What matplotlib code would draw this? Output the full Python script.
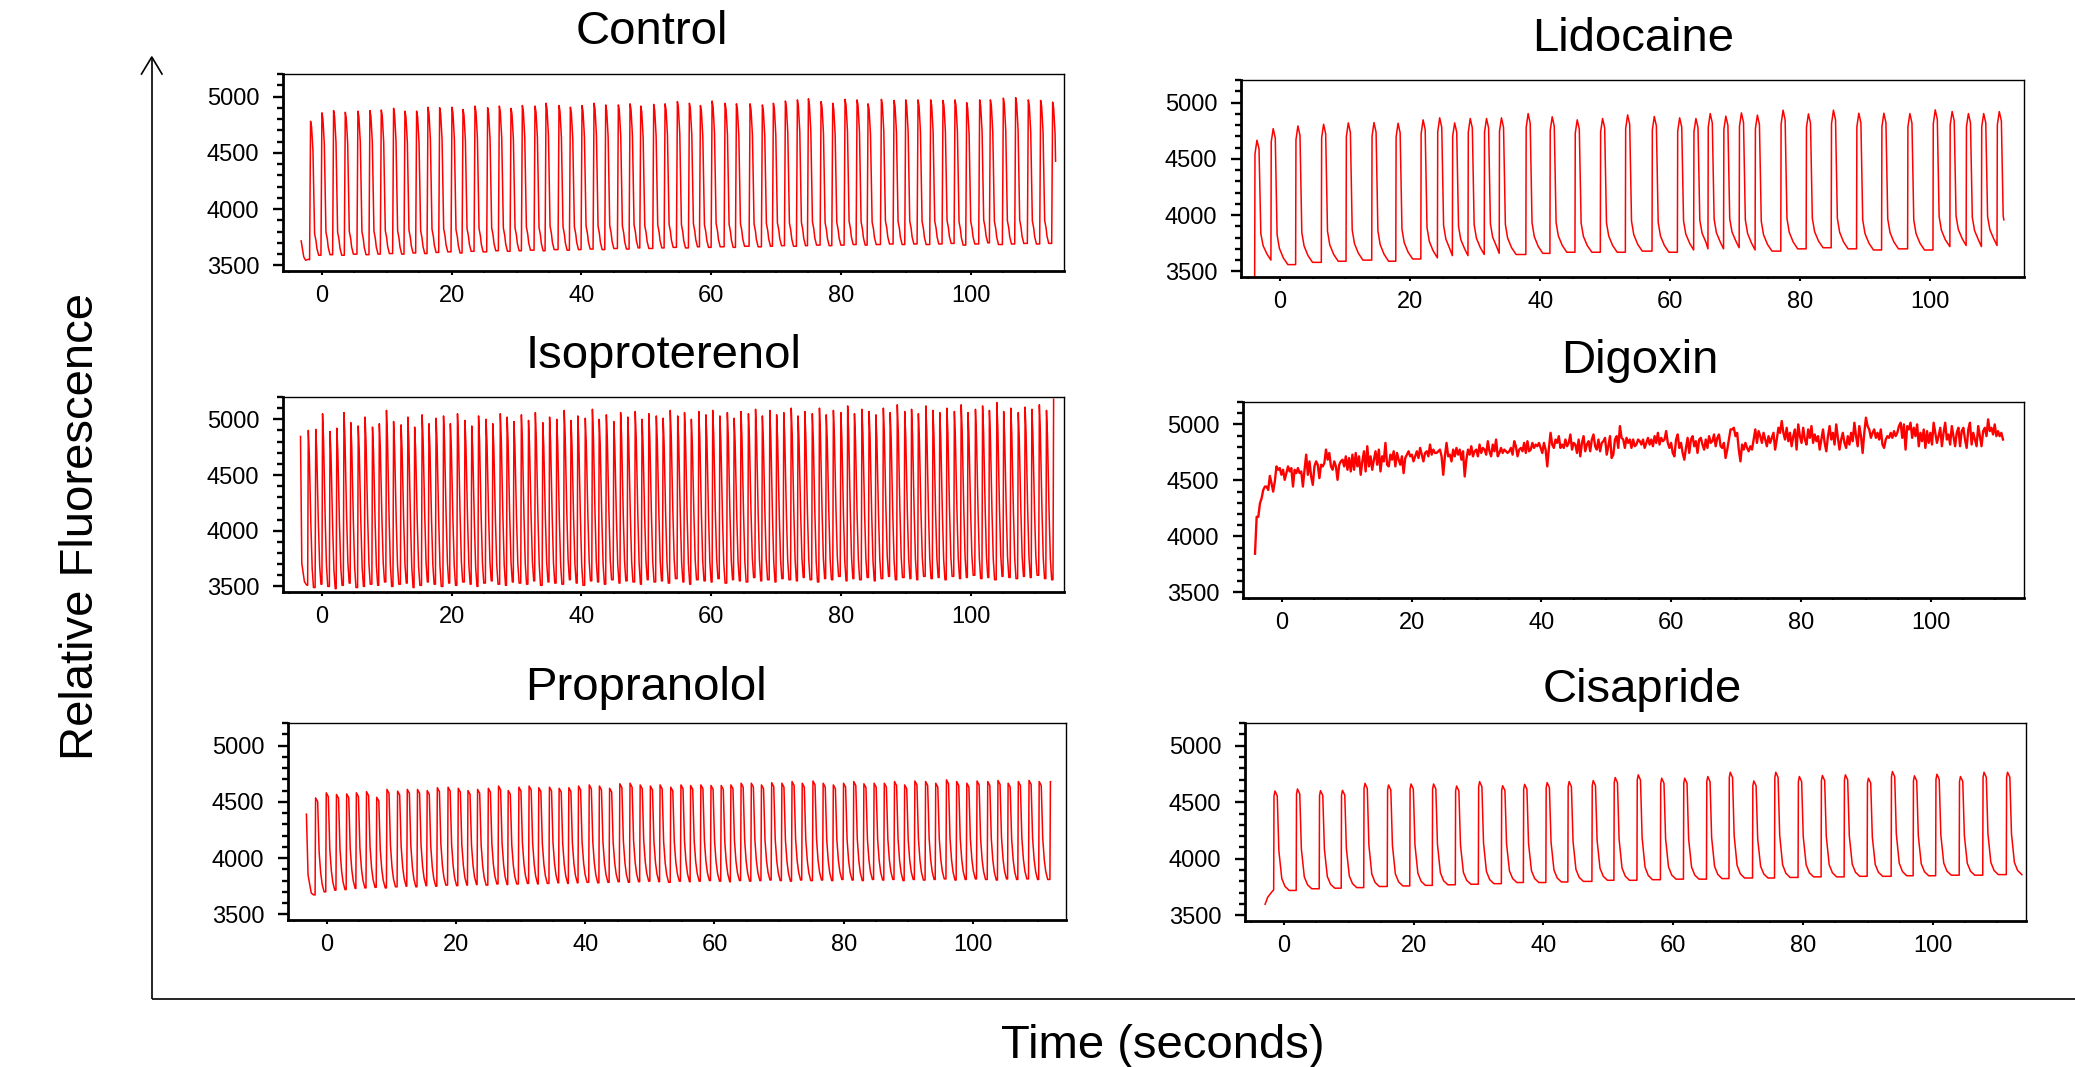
import numpy as np
import matplotlib
matplotlib.use("Agg")
import matplotlib.pyplot as plt
from matplotlib.ticker import MultipleLocator

plt.rcParams['font.family'] = ['Liberation Sans', 'DejaVu Sans']

W, H = 2075, 1067

# ---- Control: beat onsets (s), peak and trough levels ----
ctrl_onsets = [-1.9, -0.15, 1.65, 3.45, 5.4, 7.25, 9.0, 10.9, 12.65, 14.45,
               16.2, 18.0, 19.9, 21.6, 23.45, 25.4, 27.2, 29.0, 30.75, 32.7,
               34.4, 36.4, 38.15, 39.95, 41.8, 43.6, 45.55, 47.35, 49.0, 51.0,
               52.75, 54.65, 56.5, 58.2, 60.0, 62.0, 63.75, 65.85, 67.75, 69.45,
               71.3, 73.15, 74.85, 76.8, 78.6, 80.5, 82.35, 84.05, 86.1, 88.05,
               89.85, 91.75, 93.7, 95.6, 97.45, 99.25, 101.25, 102.9, 104.9, 106.8,
               108.75, 110.65, 112.5]
ctrl_peaks = [4780, 4855, 4875, 4860, 4870, 4875, 4880, 4895, 4870, 4870,
              4905, 4900, 4905, 4885, 4915, 4900, 4915, 4895, 4920, 4915,
              4940, 4920, 4905, 4920, 4940, 4925, 4925, 4935, 4915, 4930,
              4935, 4955, 4940, 4920, 4960, 4940, 4935, 4935, 4925, 4940,
              4960, 4970, 4980, 4955, 4940, 4975, 4970, 4935, 4975, 4965,
              4970, 4970, 4970, 4965, 4970, 4945, 4970, 4970, 4985, 4990,
              4970, 4965, 4950]
ctrl_troughs = [3550, 3590, 3595, 3590, 3600, 3595, 3600, 3605, 3600, 3610,
                3605, 3615, 3620, 3610, 3625, 3620, 3630, 3625, 3630, 3635,
                3630, 3640, 3635, 3640, 3645, 3640, 3650, 3645, 3655, 3650,
                3655, 3660, 3655, 3665, 3660, 3665, 3660, 3670, 3665, 3670,
                3675, 3670, 3675, 3680, 3675, 3680, 3685, 3680, 3685, 3690,
                3685, 3690, 3685, 3690, 3695, 3680, 3690, 3700, 3685, 3690,
                3695, 3690, 3695]
ctrl_pre_t = [-3.2, -2.8, -2.5, -2.1]
ctrl_pre_v = [3717, 3575, 3545, 3555]
ctrl_shape_t = [0, 0.15, 0.3, 0.52, 0.77, 0.98, 1.13, 1.4]
ctrl_shape_f = [0, 1.0, 0.96, 0.78, 0.16, 0.11, 0.05, 0]
ctrl_end = 113.1

# ---- Isoproterenol ----
iso_onsets = [-2.2, -1.05, 0.0, 1.15, 2.2, 3.3, 4.35, 5.5, 6.55, 7.7,
              8.75, 9.85, 10.95, 12.1, 13.15, 14.2, 15.35, 16.4, 17.5, 18.65,
              19.7, 20.8, 21.95, 23.0, 24.05, 25.2, 26.25, 27.4, 28.45, 29.5,
              30.65, 31.75, 32.8, 33.95, 35.0, 36.1, 37.25, 38.3, 39.35, 40.5,
              41.6, 42.65, 43.75, 44.9, 45.95, 47.05, 48.2, 49.25, 50.3, 51.45,
              52.5, 53.6, 54.75, 55.8, 56.85, 58.0, 59.1, 60.15, 61.25, 62.4,
              63.45, 64.5, 65.65, 66.75, 67.8, 68.95, 70.0, 71.1, 72.25, 73.3,
              74.35, 75.5, 76.6, 77.65, 78.75, 79.9, 80.95, 82.0, 83.15, 84.25,
              85.3, 86.45, 87.5, 88.6, 89.75, 90.8, 91.85, 93.0, 94.1, 95.15,
              96.25, 97.4, 98.45, 99.5, 100.65, 101.75, 102.8, 103.95, 105.0, 106.1,
              107.25, 108.3, 109.35, 110.5, 111.6, 112.7]
iso_peaks = [4900, 4910, 5050, 4890, 4920, 5060, 4970, 4940, 5020, 4930,
             4960, 5080, 4980, 4950, 5020, 4930, 5040, 4960, 5010, 5030,
             4960, 5050, 4990, 4940, 5030, 5000, 4960, 5050, 5020, 4980,
             5040, 4990, 5060, 4970, 5020, 5000, 5080, 4990, 5030, 5010,
             5090, 5000, 5040, 4980, 5060, 5020, 5070, 5000, 5050, 5030,
             5010, 5080, 5030, 5060, 5000, 5070, 5040, 5080, 5030, 5060,
             5010, 5070, 5050, 5090, 5030, 5080, 5040, 5060, 5100, 5030,
             5070, 5050, 5100, 5040, 5080, 5060, 5120, 5050, 5090, 5070,
             5040, 5100, 5060, 5130, 5070, 5090, 5050, 5120, 5080, 5060,
             5100, 5070, 5130, 5060, 5090, 5120, 5080, 5150, 5070, 5100,
             5060, 5110, 5090, 5130, 5080, 5180]
iso_troughs = [3510, 3490, 3520, 3500, 3480, 3510, 3530, 3490, 3500, 3520,
               3510, 3540, 3500, 3520, 3530, 3490, 3510, 3540, 3520, 3500,
               3530, 3510, 3540, 3520, 3500, 3530, 3550, 3520, 3510, 3540,
               3530, 3520, 3550, 3510, 3540, 3530, 3520, 3560, 3530, 3510,
               3550, 3540, 3520, 3560, 3530, 3550, 3540, 3520, 3560, 3540,
               3550, 3530, 3570, 3540, 3520, 3560, 3550, 3540, 3570, 3530,
               3560, 3550, 3540, 3580, 3550, 3560, 3540, 3570, 3560, 3550,
               3580, 3560, 3540, 3570, 3560, 3590, 3550, 3570, 3560, 3580,
               3550, 3570, 3590, 3560, 3580, 3570, 3560, 3590, 3570, 3580,
               3560, 3590, 3570, 3580, 3600, 3570, 3580, 3560, 3590, 3580,
               3570, 3590, 3580, 3600, 3570, 3560]
iso_pre_t = [-3.3, -3.1, -2.7, -2.4]
iso_pre_v = [4846, 3707, 3544, 3515]
iso_shape_t = [0, 0.1, 0.25, 0.5, 0.7, 0.9]
iso_shape_f = [0, 1.0, 0.85, 0.4, 0.12, 0]
iso_end = 112.8

# ---- Propranolol ----
prop_onsets = [-1.81, -0.16, 1.42, 3.0, 4.5, 6.07, 7.65, 9.23, 10.88, 12.38,
               13.96, 15.46, 17.03, 18.69, 20.27, 21.77, 23.26, 24.92, 26.5, 28.0,
               29.65, 31.23, 32.73, 34.38, 35.88, 37.38, 38.88, 40.54, 42.11, 43.69,
               45.27, 46.85, 48.42, 50.0, 51.5, 53.15, 54.73, 56.23, 57.81, 59.38,
               60.96, 62.46, 64.04, 65.62, 67.19, 68.77, 70.35, 71.92, 73.5, 75.16,
               76.74, 78.31, 79.89, 81.47, 83.04, 84.62, 86.2, 87.78, 89.35, 90.93,
               92.59, 94.16, 95.82, 97.4, 98.97, 100.55, 102.21, 103.79, 105.36, 106.94,
               108.6, 110.17, 111.91]
prop_peaks = [4535, 4580, 4565, 4570, 4580, 4590, 4540, 4610, 4595, 4610,
              4610, 4600, 4625, 4630, 4620, 4600, 4610, 4620, 4640, 4600,
              4630, 4640, 4625, 4630, 4620, 4625, 4640, 4650, 4640, 4620,
              4660, 4665, 4650, 4640, 4650, 4630, 4650, 4645, 4650, 4645,
              4645, 4650, 4665, 4665, 4650, 4670, 4665, 4680, 4665, 4685,
              4665, 4650, 4665, 4680, 4660, 4665, 4665, 4680, 4650, 4685,
              4680, 4665, 4695, 4680, 4665, 4685, 4680, 4690, 4665, 4680,
              4690, 4680, 4680]
prop_troughs = [3672, 3700, 3715, 3720, 3730, 3735, 3740, 3735, 3745, 3750,
                3745, 3755, 3750, 3760, 3755, 3760, 3765, 3760, 3770, 3765,
                3770, 3775, 3770, 3775, 3780, 3775, 3780, 3785, 3780, 3785,
                3790, 3785, 3790, 3795, 3790, 3785, 3795, 3790, 3795, 3800,
                3795, 3790, 3800, 3795, 3800, 3805, 3800, 3795, 3805, 3800,
                3805, 3800, 3810, 3805, 3800, 3810, 3805, 3810, 3800, 3810,
                3805, 3810, 3815, 3805, 3810, 3815, 3810, 3805, 3815, 3810,
                3815, 3810, 3810]
prop_pre_t = [-3.15, -2.9, -2.4, -2.1]
prop_pre_v = [4390, 3850, 3690, 3675]
prop_shape_t = [0, 0.08, 0.4, 0.63, 0.87, 1.1, 1.4]
prop_shape_f = [0, 1.0, 0.96, 0.42, 0.2, 0.08, 0]
prop_end = 112.0

# ---- Lidocaine ----
lido_onsets = [-3.9, -1.4, 2.4, 6.35, 10.15, 14.1, 17.8, 21.65, 24.2, 26.5,
               28.9, 31.4, 33.7, 37.8, 41.5, 45.35, 49.25, 53.1, 57.2, 61.1,
               63.6, 65.8, 68.2, 70.6, 73.05, 77.0, 80.9, 84.75, 88.65, 92.5,
               96.5, 100.4, 103.0, 105.5, 107.85, 110.25]
lido_peaks = [4665, 4768, 4792, 4807, 4819, 4822, 4816, 4846, 4864, 4819,
              4858, 4858, 4864, 4902, 4873, 4846, 4858, 4890, 4876, 4864,
              4858, 4902, 4879, 4908, 4888, 4932, 4899, 4932, 4905, 4905,
              4902, 4935, 4920, 4902, 4902, 4920]
lido_troughs = [3450, 3600, 3560, 3580, 3590, 3600, 3590, 3610, 3620, 3640,
                3640, 3650, 3660, 3650, 3660, 3670, 3670, 3670, 3680, 3670,
                3690, 3700, 3700, 3710, 3690, 3680, 3700, 3710, 3700, 3690,
                3700, 3690, 3720, 3730, 3720, 3730]
lido_pre_t = []
lido_pre_v = []
lido_shape_t = [0, 0.05, 0.35, 0.67, 0.95, 1.3, 1.9, 2.6]
lido_shape_f = [0, 0.9, 1.0, 0.93, 0.22, 0.12, 0.05, 0]
lido_end = 111.3

# ---- Cisapride ----
cisa_onsets = [-1.58, 1.89, 5.44, 8.83, 12.3, 15.93, 19.4, 22.87, 26.42, 29.97,
               33.52, 36.91, 40.38, 43.77, 47.48, 50.87, 54.42, 58.04, 61.59, 65.14,
               68.61, 72.24, 75.63, 79.26, 82.81, 86.36, 89.91, 93.61, 97.0, 100.47,
               104.1, 107.73, 111.36]
cisa_peaks = [4599, 4617, 4602, 4605, 4667, 4652, 4661, 4661, 4643, 4682,
              4646, 4658, 4673, 4682, 4691, 4718, 4742, 4712, 4712, 4727,
              4765, 4688, 4765, 4727, 4736, 4742, 4712, 4771, 4733, 4747,
              4727, 4765, 4765]
cisa_troughs = [3725, 3720, 3735, 3740, 3745, 3755, 3760, 3765, 3770, 3775,
                3780, 3790, 3790, 3795, 3800, 3810, 3810, 3815, 3820, 3820,
                3825, 3830, 3830, 3835, 3840, 3840, 3845, 3845, 3850, 3850,
                3855, 3855, 3860]
cisa_pre_t = [-2.9, -2.5, -2.1, -1.8]
cisa_pre_v = [3598, 3660, 3690, 3712]
cisa_shape_t = [0, 0.05, 0.2, 0.55, 0.8, 1.25, 1.75, 2.4]
cisa_shape_f = [0, 0.95, 1.0, 0.95, 0.4, 0.12, 0.04, 0]
cisa_end = 114.0

dig_t_start, dig_t_end = -4.15, 111.16
dig_values = [
    3845, 4175, 4175, 4295, 4340, 4415, 4445, 4445, 4415, 4540,
    4475, 4400, 4490, 4625, 4595, 4610, 4550, 4595, 4505, 4565,
    4625, 4580, 4610, 4445, 4595, 4565, 4610, 4565, 4580, 4445,
    4595, 4730, 4550, 4670, 4535, 4460, 4625, 4670, 4640, 4520,
    4640, 4625, 4655, 4775, 4685, 4745, 4625, 4595, 4670, 4625,
    4505, 4640, 4670, 4685, 4625, 4715, 4595, 4700, 4580, 4730,
    4595, 4745, 4625, 4715, 4550, 4670, 4760, 4580, 4805, 4625,
    4715, 4595, 4685, 4760, 4640, 4775, 4580, 4715, 4670, 4835,
    4640, 4625, 4730, 4685, 4760, 4625, 4745, 4685, 4640, 4715,
    4565, 4700, 4730, 4760, 4715, 4730, 4670, 4715, 4760, 4700,
    4790, 4730, 4670, 4745, 4760, 4715, 4820, 4730, 4775, 4745,
    4745, 4760, 4775, 4715, 4550, 4715, 4835, 4715, 4730, 4670,
    4775, 4715, 4790, 4730, 4775, 4685, 4760, 4535, 4685, 4775,
    4730, 4805, 4715, 4760, 4775, 4715, 4820, 4745, 4790, 4775,
    4730, 4850, 4760, 4715, 4820, 4760, 4865, 4715, 4745, 4790,
    4745, 4775, 4760, 4745, 4760, 4790, 4730, 4850, 4805, 4715,
    4775, 4790, 4760, 4835, 4745, 4850, 4760, 4775, 4835, 4790,
    4820, 4805, 4835, 4790, 4745, 4835, 4775, 4625, 4790, 4925,
    4820, 4790, 4865, 4835, 4895, 4790, 4820, 4790, 4865, 4805,
    4835, 4910, 4775, 4835, 4820, 4745, 4865, 4715, 4835, 4895,
    4760, 4820, 4850, 4760, 4865, 4910, 4805, 4775, 4865, 4760,
    4835, 4850, 4880, 4730, 4805, 4895, 4700, 4730, 4865, 4895,
    4790, 4985, 4880, 4865, 4790, 4880, 4835, 4865, 4790, 4865,
    4805, 4820, 4865, 4850,
    4820, 4865, 4790, 4835, 4880, 4820, 4865, 4805, 4895, 4835,
    4925, 4820, 4880, 4850, 4865, 4940, 4835, 4790, 4835, 4745,
    4715, 4865, 4910, 4790, 4835, 4745, 4685, 4790, 4880, 4745,
    4865, 4895, 4805, 4850, 4745, 4865, 4880, 4820, 4775, 4865,
    4790, 4895, 4835, 4850, 4910, 4805, 4880, 4910, 4805, 4790,
    4835, 4700, 4775, 4865, 4955, 4955, 4970, 4895, 4925, 4775,
    4670, 4820, 4775, 4835, 4790, 4760, 4805, 4775, 4865, 4955,
    4835, 4940, 4895, 4835, 4925, 4865, 4805, 4895, 4835, 4880,
    4925, 4775, 4865, 4970, 4925, 5030, 4925, 4865, 4970, 4850,
    4925, 4805, 4895, 4955, 4775, 5000, 4895, 4835, 4970, 4865,
    4820, 4955, 4880, 4985, 4835, 4910, 4850, 4895, 4775, 4865,
    4955, 4835, 4760, 4895, 4985, 4865, 4925, 4820, 5000, 4880,
    4775, 4865, 4925, 4835, 4790, 4895, 4820, 4925, 4850, 5015,
    4895, 4805, 4985, 4895, 4745, 4925, 5060, 4985, 4955, 4880,
    4925, 4955, 4880, 4925, 4865, 4955, 4820, 4790, 4865, 4895,
    4880, 4925, 4880, 4940, 4895, 4925, 4985, 5015, 4880, 5000,
    4775, 4985, 4955, 5015, 4880, 4970, 4895, 5000, 4805, 4925,
    4850, 4955, 4790, 4940, 4835, 4925, 4820, 5015, 4925, 4835,
    4895, 4970, 4805, 4925, 5015, 4865, 4910, 4820, 4985, 4895,
    4805, 4925, 4970, 4805, 4940, 4970, 4865, 4790, 4955, 5015,
    4820, 4925, 4865, 4805, 4985, 4895, 4805, 4940, 4970, 4895,
    5045, 4940, 4970, 4910, 5000, 4895, 4940, 4895, 4925, 4865,
]

RED = "#ff0000"


def beat_trace(onsets, peaks, troughs, shape_t, shape_f, pre_t, pre_v, t_end):
    ts = list(pre_t)
    vs = list(pre_v)
    n = len(onsets)
    for i in range(n):
        b0 = troughs[i]
        b1 = troughs[i + 1] if i + 1 < n else troughs[i]
        for k in range(len(shape_t)):
            t = onsets[i] + shape_t[k]
            if i + 1 < n and t >= onsets[i + 1] - 0.02:
                break
            base = b0 if k < 2 else b1
            ts.append(t)
            vs.append(base + shape_f[k] * (peaks[i] - base))
    ts = np.array(ts)
    vs = np.array(vs)
    keep = ts <= t_end
    if keep.sum() < len(ts):
        v_last = np.interp(t_end, ts, vs)
        return np.append(ts[keep], t_end), np.append(vs[keep], v_last)
    return ts, vs


def px_rect(left, top, right, bottom):
    return [left / W, 1 - bottom / H, (right - left) / W, (bottom - top) / H]


def style_axes(ax):
    ax.set_xlim(-6, 114.4)
    ax.set_ylim(3450, 5200)
    ax.set_yticks([3500, 4000, 4500, 5000])
    ax.yaxis.set_minor_locator(MultipleLocator(100))
    ax.set_xticks([0, 20, 40, 60, 80, 100])
    ax.xaxis.set_minor_locator(MultipleLocator(5))
    ax.tick_params(axis='y', which='major', direction='out', length=7.2,
                   width=1.7, labelsize=17, pad=10)
    ax.tick_params(axis='y', which='minor', direction='out', length=4.3, width=1.7)
    ax.tick_params(axis='x', which='major', direction='out', length=3,
                   width=1.5, labelsize=17, pad=7)
    ax.tick_params(axis='x', which='minor', direction='out', length=1.6, width=1.5)
    for side in ['left', 'bottom']:
        ax.spines[side].set_linewidth(2.0)
    for side in ['top', 'right']:
        ax.spines[side].set_linewidth(1.0)


fig = plt.figure(figsize=(W / 100, H / 100), dpi=100)

# big L-shaped axis with arrow
ax0 = fig.add_axes([0, 0, 1, 1], zorder=-1)
ax0.set_xlim(0, W)
ax0.set_ylim(H, 0)
ax0.axis('off')
ax0.plot([152, 152], [999, 58], color='black', lw=1.2, solid_capstyle='butt')
ax0.plot([152, W], [999, 999], color='black', lw=1.2, solid_capstyle='butt')
ax0.plot([141.5, 151.8, 162], [74, 57, 74], color='black', lw=1.2)

panels = [
    ("Control", (283, 74, 1064, 271), (652, 44),
     beat_trace(ctrl_onsets, ctrl_peaks, ctrl_troughs, ctrl_shape_t, ctrl_shape_f,
                ctrl_pre_t, ctrl_pre_v, ctrl_end), 1.1),
    ("Isoproterenol", (283, 397, 1064, 592), (664, 368),
     beat_trace(iso_onsets, iso_peaks, iso_troughs, iso_shape_t, iso_shape_f,
                iso_pre_t, iso_pre_v, iso_end), 1.1),
    ("Propranolol", (288, 723, 1066, 920), (646, 700),
     beat_trace(prop_onsets, prop_peaks, prop_troughs, prop_shape_t, prop_shape_f,
                prop_pre_t, prop_pre_v, prop_end), 1.1),
    ("Lidocaine", (1241, 80, 2024, 277), (1633, 51),
     beat_trace(lido_onsets, lido_peaks, lido_troughs, lido_shape_t, lido_shape_f,
                lido_pre_t, lido_pre_v, lido_end), 1.1),
    ("Digoxin", (1243, 402, 2024, 598), (1640, 373),
     (np.linspace(dig_t_start, dig_t_end, len(dig_values)), np.array(dig_values)), 1.7),
    ("Cisapride", (1245, 723, 2026, 921), (1642, 702),
     beat_trace(cisa_onsets, cisa_peaks, cisa_troughs, cisa_shape_t, cisa_shape_f,
                cisa_pre_t, cisa_pre_v, cisa_end), 1.1),
]

for name, rect, title_xy, (tt, vv), lw in panels:
    ax = fig.add_axes(px_rect(*rect))
    ax.plot(tt, vv, color=RED, lw=lw)
    style_axes(ax)
    fig.text(title_xy[0] / W, 1 - title_xy[1] / H, name, fontsize=34,
             ha='center', va='baseline')

fig.text(93 / W, 1 - 527 / H, "Relative Fluorescence", fontsize=34,
         rotation=90, rotation_mode='anchor', ha='center', va='baseline')
fig.text(1163 / W, 1 - 1058 / H, "Time (seconds)", fontsize=34,
         ha='center', va='baseline')

fig.savefig("out.png", dpi=100)
plt.close(fig)
